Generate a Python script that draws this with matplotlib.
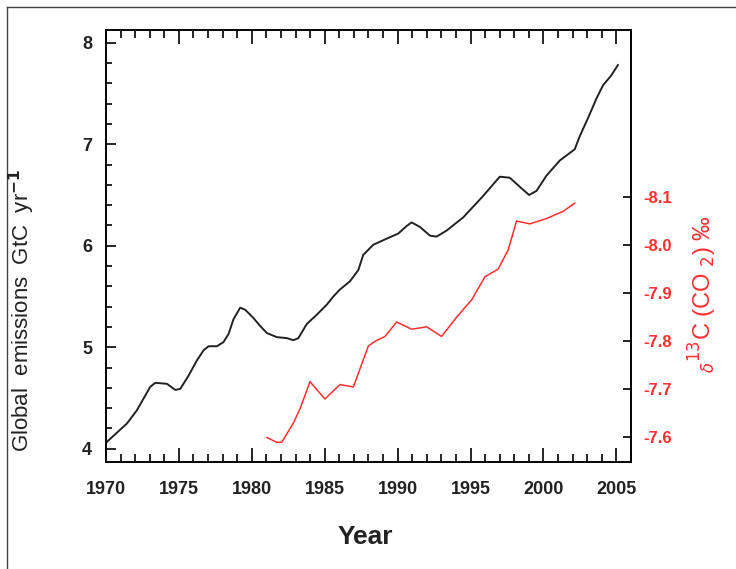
import matplotlib
matplotlib.use("Agg")
import matplotlib.pyplot as plt
from matplotlib.lines import Line2D

# global emissions (GtC/yr)
em_years = [1970.0, 1971.44, 1972.12, 1973.03, 1973.38, 1974.18, 1974.75, 1975.09, 1975.66,
            1976.23, 1976.69, 1977.03, 1977.6, 1978.05, 1978.4, 1978.74, 1979.2, 1979.54,
            1980.1, 1980.57, 1981.03, 1981.71, 1982.4, 1982.85, 1983.19, 1983.77, 1984.45,
            1985.14, 1985.59, 1986.05, 1986.73, 1987.3, 1987.64, 1988.33, 1989.25, 1990.04,
            1990.62, 1990.96, 1991.53, 1992.21, 1992.67, 1993.36, 1994.5, 1995.86, 1997.0,
            1997.69, 1998.38, 1999.01, 1999.52, 2000.2, 2001.12, 2002.14, 2002.49, 2003.06,
            2003.63, 2004.08, 2004.66, 2005.1]
emissions = [4.06, 4.25, 4.38, 4.61, 4.65, 4.64, 4.58, 4.59, 4.72,
             4.87, 4.97, 5.01, 5.01, 5.05, 5.13, 5.275, 5.39, 5.37,
             5.29, 5.21, 5.14, 5.10, 5.09, 5.07, 5.09, 5.23, 5.32,
             5.42, 5.50, 5.57, 5.65, 5.76, 5.91, 6.01, 6.07, 6.12,
             6.195, 6.23, 6.185, 6.10, 6.09, 6.15, 6.28, 6.49, 6.68,
             6.67, 6.58, 6.50, 6.54, 6.69, 6.84, 6.95, 7.08, 7.26,
             7.45, 7.58, 7.68, 7.78]

# delta 13C of CO2 (per mil)
c13_years = [1981.03, 1981.71, 1982.05, 1982.85, 1983.31, 1983.99, 1985.01, 1986.05, 1986.96,
             1987.99, 1988.45, 1989.13, 1989.93, 1990.96, 1991.99, 1993.01, 1994.04, 1995.07,
             1995.98, 1996.89, 1997.58, 1998.15, 1999.06, 2000.2, 2001.34, 2002.14]
d13c = [-7.60, -7.59, -7.59, -7.63, -7.66, -7.716, -7.68, -7.71, -7.705,
        -7.79, -7.80, -7.81, -7.84, -7.825, -7.83, -7.81, -7.85, -7.886,
        -7.934, -7.95, -7.99, -8.05, -8.044, -8.055, -8.07, -8.087]

year_ticks = [1970, 1975, 1980, 1985, 1990, 1995, 2000, 2005]
em_ticks = [4, 5, 6, 7, 8]
c13_ticks = [-8.1, -8.0, -7.9, -7.8, -7.7, -7.6]
c13_labels = ["-8.1", "-8.0", "-7.9", "-7.8", "-7.7", "-7.6"]

narrow = ["Liberation Sans Narrow", "Liberation Sans", "DejaVu Sans"]
red = "#ff3030"

fig = plt.figure(figsize=(7.36, 5.69), dpi=100)
ax = fig.add_axes([106/736, 1-462/569, (631-106)/736, (462-30)/569])
ax2 = ax.twinx()

ax.plot(em_years, emissions, color="#222222", lw=1.4)
ax2.plot(c13_years, d13c, color=red, lw=1.1)

ax.set_xlim(1970, 2006)
ax.set_ylim(3.87, 8.125)
ax2.set_ylim(-7.549, -8.447)

for a in (ax, ax2):
    for s in a.spines.values():
        s.set_linewidth(1.2)

ax.set_xticks(year_ticks)
ax.set_xticks(range(1970, 2007), minor=True)
ax.set_yticks(em_ticks)
ax.set_yticks([4 + 0.2 * i for i in range(21)], minor=True)
ax.tick_params(axis="x", which="both", direction="in", top=True, bottom=True, width=1.2)
ax.tick_params(axis="x", which="major", length=10, pad=14)
ax.tick_params(axis="x", which="minor", length=6)
ax.tick_params(axis="y", which="both", direction="in", left=True, right=False, width=1.2)
ax.tick_params(axis="y", which="major", length=7, pad=10)
ax.tick_params(axis="y", which="minor", length=4)
ax.set_xticklabels([str(y) for y in year_ticks], family=narrow, fontsize=13,
                   fontweight="bold", color="#222222")
ax.set_yticklabels([str(v) for v in em_ticks], family=narrow, fontsize=13,
                   fontweight="bold", color="#222222")

ax2.set_yticks(c13_ticks)
ax2.set_yticklabels(c13_labels, family=narrow, fontsize=12, fontweight="bold", color=red)
ax2.tick_params(axis="y", direction="in", length=6, width=1.2, pad=9)

fig.text(22/736, 1-310/569, "Global  emissions  GtC  yr$^{\\mathbf{-1}}$", rotation=90,
         ha="center", va="center", fontsize=16, family="Liberation Sans", color="#222222")
fig.text(703/736, 1-294/569, r"$_{\delta}$$^{13}$C (CO $_{2}$) ‰", rotation=90,
         ha="center", va="center", fontsize=17, family="Liberation Sans", color=red)
fig.text(365/736, 1-537/569, "Year", ha="center", va="center", fontsize=19,
         fontweight="bold", family=narrow, color="#222222")

# frame round the picture
fig.add_artist(Line2D([7/736, 1], [1-7/569, 1-7/569], transform=fig.transFigure,
                      color="#444444", lw=1))
fig.add_artist(Line2D([7/736, 7/736], [0, 1-7/569], transform=fig.transFigure,
                      color="#444444", lw=1))

fig.savefig("out.png", dpi=100)
